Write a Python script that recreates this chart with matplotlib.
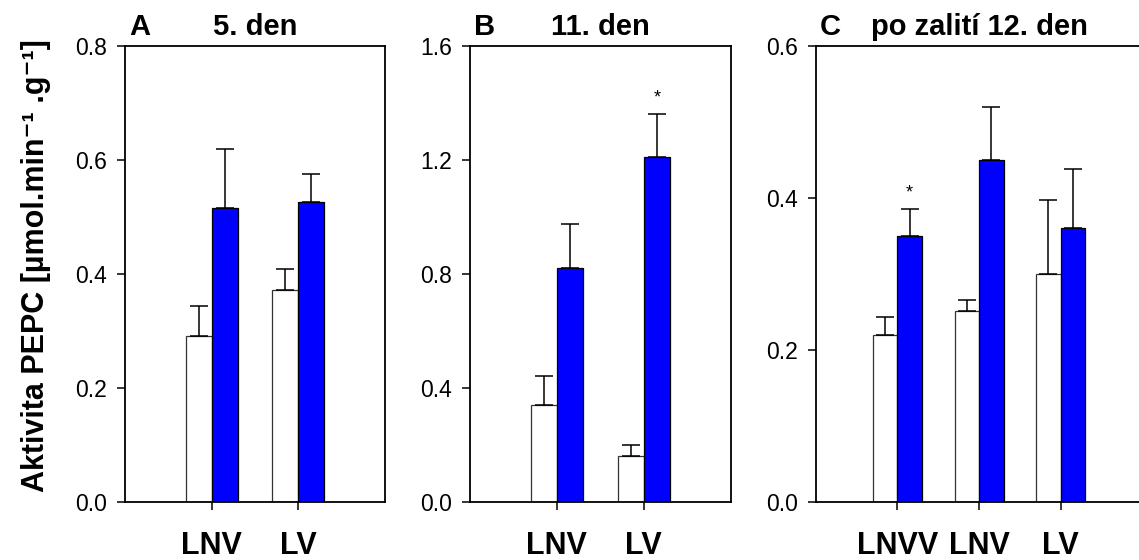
import numpy as np
import matplotlib
matplotlib.use("Agg")
import matplotlib.pyplot as plt

# fonts: Arial-like everywhere (DejaVu only as fallback for the superscript signs)
plt.rcParams['font.family'] = ['Liberation Sans', 'DejaVu Sans']

# ---- data ----
# panel A - 5. den
a_groups    = ['LNV', 'LV']
a_white     = [0.291, 0.371]
a_white_err = [0.052, 0.037]
a_blue      = [0.515, 0.525]
a_blue_err  = [0.103, 0.050]
a_star      = [False, False]

# panel B - 11. den
b_groups    = ['LNV', 'LV']
b_white     = [0.339, 0.160]
b_white_err = [0.102, 0.039]
b_blue      = [0.820, 1.209]
b_blue_err  = [0.154, 0.150]
b_star      = [False, True]

# panel C - po zaliti 12. den
c_groups    = ['LNVV', 'LNV', 'LV']
c_white     = [0.220, 0.251, 0.300]
c_white_err = [0.023, 0.014, 0.097]
c_blue      = [0.350, 0.450, 0.360]
c_blue_err  = [0.035, 0.070, 0.078]
c_star      = [True, False, False]

a_yticks = [0.0, 0.2, 0.4, 0.6, 0.8]
b_yticks = [0.0, 0.4, 0.8, 1.2, 1.6]
c_yticks = [0.0, 0.2, 0.4, 0.6]

W, H = 1139.0, 560.0


def Plot_Panel(ax, groups, white, white_err, blue, blue_err, star, yticks, letter, title):
    n = len(groups)
    x = np.arange(1, n + 1)
    bw = 0.3

    ax.bar(x - bw / 2, white, width=bw, color='white', edgecolor='#333333', linewidth=0.9, zorder=2)
    ax.bar(x + bw / 2, blue, width=bw, color='#0000FF', edgecolor='black', linewidth=0.9, zorder=2)

    # only the upper half of the error bars is visible
    ax.errorbar(x - bw / 2, white, yerr=[np.zeros(n), white_err], fmt='none', ecolor='black',
                elinewidth=1.1, capsize=6.5, capthick=1.1, zorder=3)
    ax.errorbar(x + bw / 2, blue, yerr=[np.zeros(n), blue_err], fmt='none', ecolor='black',
                elinewidth=1.1, capsize=6.5, capthick=1.1, zorder=3)

    for i in range(n):
        if star[i]:
            ax.annotate('*', xy=(x[i] + bw / 2, blue[i] + blue_err[i]), xytext=(0, 5.5),
                        textcoords='offset points', ha='center', va='bottom', fontsize=13)

    ax.set_xlim(0, n + 1)
    ax.set_ylim(yticks[0], yticks[-1])
    ax.set_xticks(x)
    ax.set_xticklabels(groups, fontsize=22, fontweight='bold')
    ax.set_yticks(yticks)
    ax.set_yticklabels(['%.1f' % v for v in yticks], fontsize=16.5)
    ax.tick_params(axis='y', direction='out', length=6, width=1.1, pad=7)
    ax.tick_params(axis='x', direction='out', length=6, width=1.1, pad=15)

    for sp in ax.spines.values():
        sp.set_linewidth(1.3)

    ax.annotate(letter, xy=(0, 1), xycoords='axes fraction', xytext=(3, 7.7),
                textcoords='offset points', ha='left', va='baseline',
                fontsize=21, fontweight='bold')
    ax.annotate(title, xy=(0.5, 1), xycoords='axes fraction', xytext=(0, 7.7),
                textcoords='offset points', ha='center', va='baseline',
                fontsize=21, fontweight='bold')


fig = plt.figure(figsize=(W / 100, H / 100), dpi=100)

bottom = (H - 501.7) / H
height = 456.0 / H
ax1 = fig.add_axes([125.0 / W, bottom, 260.0 / W, height])
ax2 = fig.add_axes([470.0 / W, bottom, 260.7 / W, height])
ax3 = fig.add_axes([815.7 / W, bottom, 326.7 / W, height])

Plot_Panel(ax1, a_groups, a_white, a_white_err, a_blue, a_blue_err, a_star, a_yticks, 'A', '5. den')
Plot_Panel(ax2, b_groups, b_white, b_white_err, b_blue, b_blue_err, b_star, b_yticks, 'B', '11. den')
Plot_Panel(ax3, c_groups, c_white, c_white_err, c_blue, c_blue_err, c_star, c_yticks, 'C', 'po zalití 12. den')

fig.text(36.0 / W, 1 - 266.0 / H, 'Aktivita PEPC [µmol.min⁻¹ .g⁻¹]',
         rotation=90, ha='center', va='center', fontsize=22, fontweight='bold')

fig.savefig('out.png', dpi=100)
